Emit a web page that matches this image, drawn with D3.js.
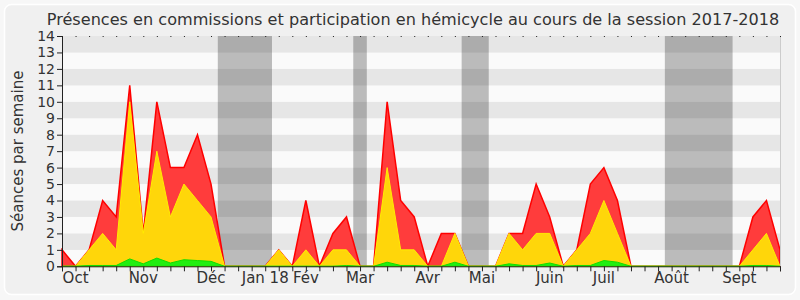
<!DOCTYPE html>
<html><head><meta charset="utf-8">
<script src="https://cdn.jsdelivr.net/npm/d3@7"></script>
<style>
html,body{margin:0;padding:0;background:#f7f7f7;}
svg{display:block;}
text{font-family:"DejaVu Sans",Verdana,sans-serif;fill:#333;}
</style></head><body>
<svg id="c" width="800" height="300"></svg>
<script>
// weekly values, session 2017-2018 (54 weeks)
const total = [1,0,1,4,3,11,2,10,6,6,8,5,0,0,0,0,1,0,4,0,2,3,0,0,10,4,3,0,2,2,0,0,0,2,2,5,3,0,1,5,6,4,0,0,0,0,0,0,0,0,0,3,4,1];
const commissions = [0,0,1,2,1,10,2,7,3,5,4,3,0,0,0,0,1,0,1,0,1,1,0,0,6,1,1,0,0,2,0,0,0,2,1,2,2,0,1,2,4,2,0,0,0,0,0,0,0,0,0,1,2,0];
const participation = [0,0,0.05,0.05,0.05,0.45,0.15,0.5,0.2,0.4,0.35,0.3,0,0,0,0,0,0,0,0,0,0.05,0,0,0.25,0.05,0.05,0,0,0.25,0,0,0,0.15,0.05,0.05,0.2,0,0.05,0.05,0.35,0.25,0,0,0,0,0,0,0,0,0,0.05,0.05,0];
const monthLabels = ["Oct","Nov","Déc","Jan 18","Fév","Mar","Avr","Mai","Juin","Juil","Août","Sept"];
const monthWeeks = [1,6,11,15,18,22,27,31,36,40,45,50];
const holidays = [[12,15],[22,22],[30,31],[45,49]];
const yTicks = d3.range(0,15);
const title = "Présences en commissions et participation en hémicycle au cours de la session 2017-2018";
const yTitle = "Séances par semaine";

const svg = d3.select("#c");
const L = 62, R = 780, T = 36, B = 266.3;
const x = d3.scaleLinear().domain([0, total.length-1]).range([L, R]);
const y = d3.scaleLinear().domain([0, 14]).range([B, T]);

svg.append("rect").attr("x",4.5).attr("y",4.5).attr("width",791).attr("height",290)
  .attr("rx",7).attr("fill","#f0f0f0").attr("stroke","#ffffff").attr("stroke-width",1.5);

// bands
svg.append("g").selectAll("rect").data(d3.range(0,14)).join("rect")
  .attr("x",L).attr("width",R-L)
  .attr("y",d=>y(d+1)).attr("height",d=>y(d)-y(d+1))
  .attr("fill",d=> d%2===1 ? "#e6e6e6" : "#fafafa");

// holidays
svg.append("g").selectAll("rect").data(holidays).join("rect")
  .attr("x",d=>x(d[0]-0.5)).attr("width",d=>x(d[1]+0.5)-x(d[0]-0.5))
  .attr("y",T).attr("height",B-T)
  .attr("fill","#000").attr("fill-opacity",0.25);

const area = d3.area().x((d,i)=>x(i)).y0(y(0)).y1(d=>y(d));
svg.append("path").datum(total).attr("d",area)
  .attr("fill","#ff3c3c").attr("stroke","#ff0000").attr("stroke-width",1.5);
svg.append("path").datum(commissions).attr("d",area)
  .attr("fill","#ffd60a").attr("stroke","#ffee00").attr("stroke-width",1);
svg.append("path").datum(participation).attr("d",area)
  .attr("fill","#22ee11").attr("stroke","#11dd00").attr("stroke-width",1);

// right border
svg.append("line").attr("x1",R+0.5).attr("x2",R+0.5).attr("y1",T).attr("y2",B)
  .attr("stroke","#cccccc");

// axes
const xAxis = d3.axisBottom(x).tickValues(d3.range(0,total.length)).tickSize(5).tickFormat("");
const gx = svg.append("g").attr("transform",`translate(0,${B})`).call(xAxis);
gx.select(".domain").attr("stroke","#3a2a20");
gx.selectAll(".tick line").attr("stroke","#222");
const xTop = d3.axisTop(x).tickValues(d3.range(0,total.length)).tickSize(1).tickFormat("");
const gt = svg.append("g").attr("transform",`translate(0,${T+1})`).call(xTop);
gt.select(".domain").remove();
gt.selectAll(".tick line").attr("stroke","#222");

svg.append("g").selectAll("text").data(monthLabels).join("text")
  .attr("x",(d,i)=>x(monthWeeks[i])).attr("y",283)
  .attr("text-anchor","middle").attr("font-size",15).text(d=>d);

const yAxis = d3.axisLeft(y).tickValues(yTicks).tickSize(5).tickPadding(2);
const gy = svg.append("g").attr("transform",`translate(${L},0)`).call(yAxis);
gy.select(".domain").attr("stroke","#222");
gy.selectAll(".tick line").attr("stroke","#222");
gy.selectAll(".tick text").attr("font-size",14).attr("font-family","DejaVu Sans, Verdana, sans-serif").attr("fill","#333");

svg.append("text").attr("transform","translate(23,151) rotate(-90)")
  .attr("text-anchor","middle").attr("font-size",15).text(yTitle);
svg.append("text").attr("x",413).attr("y",25).attr("text-anchor","middle")
  .attr("font-size",16.1).text(title);
</script></body></html>
